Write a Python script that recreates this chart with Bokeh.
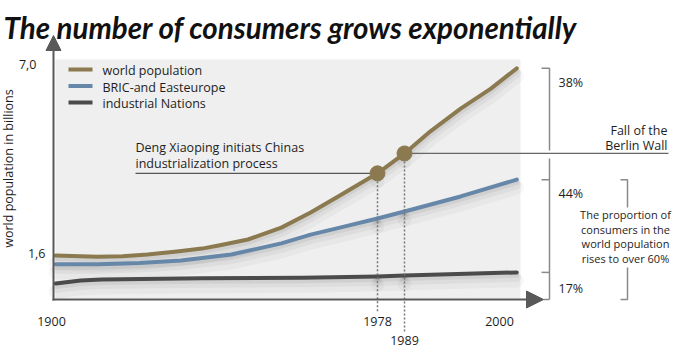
import numpy as np
from bokeh.plotting import figure
from bokeh.models import Range1d, BoxAnnotation, Arrow, NormalHead
from bokeh.core.properties import value
from bokeh.embed import file_html
from bokeh.resources import INLINE

# ---------------- data ----------------
TITLE = "The number of consumers grows exponentially"
Y_TITLE = "world population in billions"

years_world = [1901, 1911, 1917, 1923, 1930, 1936, 1940, 1947, 1955, 1962, 1969, 1978, 1989, 1992, 1995.5, 1999, 2002]
world = [1.54, 1.51, 1.52, 1.57, 1.66, 1.74, 1.83, 2.00, 2.34, 2.77, 3.26, 3.89, 4.46, 5.09, 5.74, 6.31, 6.89]

years_bric = [1901, 1911, 1921, 1931, 1943, 1955, 1962, 1969, 1978, 1989, 1995.5, 2002]
bric = [1.29, 1.29, 1.33, 1.40, 1.57, 1.89, 2.14, 2.34, 2.60, 2.80, 3.23, 3.71]

years_ind = [1901, 1907, 1912, 1936, 1960, 1978, 1989, 2002]
industrial = [0.74, 0.83, 0.86, 0.89, 0.91, 0.94, 0.97, 1.06]

SERIES_NAMES = ["world population", "BRIC-and Easteurope", "industrial Nations"]
SERIES_COLORS = ["#8b7a4f", "#6787a9", "#4b4b4b"]

X_TICKS = [1900, 1978, 1989, 2000]
Y_TICKS = [1.6, 7.0]
Y_TICK_LABELS = ["1,6", "7,0"]

EVENT_YEARS = [1978, 1989]
EVENT_TEXTS = [["Deng Xiaoping initiats Chinas", "industrialization process"],
               ["Fall of the", "Berlin Wall"]]

SHARE_LABELS = ["38%", "44%", "17%"]
NOTE_LINES = ["The proportion of", "consumers in the", "world population", "rises to over 60%"]

# ---------------- layout ----------------
W, H = 674, 351
FONT = "Open Sans"
TXT = "#1e1e1e"
AX = "#595959"

# the illustrated time axis is drawn piecewise: each segment has its own linear scale
X_ANCHOR_PX = [51, 377, 404, 499]          # screen x of the tick years
Y_ANCHOR_PX = [253, 64]                    # screen y (from top) of the value ticks


def lin_range(v0, p0, v1, p1, size):
    k = (p1 - p0) / (v1 - v0)
    start = v0 - p0 / k
    return start, start + size / k, k


seg_names = ["a", "b", "c"]
x_ranges = {}
for i, name in enumerate(seg_names):
    s, e, k = lin_range(X_TICKS[i], X_ANCHOR_PX[i], X_TICKS[i + 1], X_ANCHOR_PX[i + 1], W)
    x_ranges[name] = (s, e, k)

ys, ye, ky = lin_range(Y_TICKS[0], H - Y_ANCHOR_PX[0], Y_TICKS[1], H - Y_ANCHOR_PX[1], H)


def px_to_pop(py):
    return ys + (H - py) / ky


def pop_to_px(v):
    return H - (v - ys) * ky


def px_to_year(seg, px):
    s, e, k = x_ranges[seg]
    return s + px / k


p = figure(width=W, height=H, x_range=Range1d(0, W), y_range=Range1d(H, 0),
           x_axis_location=None, y_axis_location=None, toolbar_location=None,
           output_backend="svg", min_border=0, title=None,
           outline_line_color=None, background_fill_color="white",
           border_fill_color="white")
p.grid.visible = False
p.extra_x_ranges = {n: Range1d(v[0], v[1]) for n, v in x_ranges.items()}
p.extra_y_ranges = {"pop": Range1d(ys, ye)}

# plot background
p.add_layout(BoxAnnotation(left=55, right=520, top=59, bottom=298,
                           fill_color="#efefef", fill_alpha=1, line_color=None, level="underlay"))

series = [(np.array(years_world), np.array(world)),
          (np.array(years_bric), np.array(bric)),
          (np.array(years_ind), np.array(industrial))]
seg_bounds = {"a": (-np.inf, 1978), "b": (1978, 1989), "c": (1989, np.inf)}

# soft drop shadows
for off, wdt, alp in [(3, 5, 0.06), (5, 9, 0.04), (8, 14, 0.03)]:
    d = off / ky
    for yrs, vals in series:
        for name in seg_names:
            lo, hi = seg_bounds[name]
            m = (yrs >= lo) & (yrs <= hi)
            p.line(yrs[m], vals[m] - d, x_range_name=name, y_range_name="pop",
                   line_color="black", line_alpha=alp, line_width=wdt, line_cap="round")

# series lines (drawn back to front)
for (yrs, vals), col in reversed(list(zip(series, SERIES_COLORS))):
    for name in seg_names:
        lo, hi = seg_bounds[name]
        m = (yrs >= lo) & (yrs <= hi)
        p.line(yrs[m], vals[m], x_range_name=name, y_range_name="pop",
               line_color=col, line_width=4, line_cap="round", line_join="round")

# axes with arrows
p.add_layout(Arrow(x_start=53, y_start=300, x_end=53, y_end=35, line_color=AX, line_width=2,
                   end=NormalHead(size=15, fill_color=AX, line_color=AX)))
p.add_layout(Arrow(x_start=52, y_start=299, x_end=543, y_end=299, line_color=AX, line_width=2,
                   end=NormalHead(size=17, fill_color=AX, line_color=AX)))

# events
world_at = dict(zip(years_world, world))
ev_seg = ["a", "c"]
dot_end_px = [312, 332]
for yr, seg, endpx in zip(EVENT_YEARS, ev_seg, dot_end_px):
    p.segment(x0=[yr], y0=[world_at[yr]], x1=[yr], y1=[px_to_pop(endpx)],
              x_range_name=seg, y_range_name="pop", line_color="#777777",
              line_width=1.5, line_dash="2 2")
# leader lines
p.segment(x0=[px_to_year("a", 135)], y0=[world_at[1978]], x1=[1978], y1=[world_at[1978]],
          x_range_name="a", y_range_name="pop", line_color="#555555", line_width=1.2)
p.segment(x0=[1989], y0=[world_at[1989]], x1=[px_to_year("c", 668)], y1=[world_at[1989]],
          x_range_name="c", y_range_name="pop", line_color="#666666", line_width=1.2)
for yr, seg in zip(EVENT_YEARS, ev_seg):
    p.scatter(x=[yr], y=[world_at[yr]], x_range_name=seg, y_range_name="pop",
              size=15, fill_color=SERIES_COLORS[0], line_color=SERIES_COLORS[0])

# event texts
p.text(x=[135, 135], y=[147, 163], text=EVENT_TEXTS[0], text_font=value(FONT),
       text_font_size="12.5px", text_color=TXT, text_align="left", text_baseline="middle")
p.text(x=[667, 667], y=[130, 145], text=EVENT_TEXTS[1], text_font=value(FONT),
       text_font_size="12.5px", text_color=TXT, text_align="right", text_baseline="middle")

# brackets on the right
BR = "#8a8a8a"
w_end_px = pop_to_px(world[-1])
b_end_px = pop_to_px(bric[-1])
i_end_px = pop_to_px(industrial[-1])
berlin_px = pop_to_px(world_at[1989])
p.multi_line(xs=[[541, 549, 549], [549, 549], [541, 549], [541, 549], [543, 549],
                 [620, 627, 627], [627, 627, 620]],
             ys=[[w_end_px, w_end_px, berlin_px - 3], [berlin_px + 5, 299],
                 [b_end_px, b_end_px], [i_end_px, i_end_px], [299, 299],
                 [b_end_px, b_end_px, 207], [267, 299, 299]],
             line_color=BR, line_width=1.5)
p.text(x=[558, 558, 558], y=[82, 193, 288], text=SHARE_LABELS, text_font=value(FONT),
       text_font_size="12.5px", text_color=TXT, text_align="left", text_baseline="middle")
p.text(x=[625] * 4, y=[214, 228.5, 243, 257.5], text=NOTE_LINES, text_font=value(FONT),
       text_font_size="11px", text_color=TXT, text_align="center", text_baseline="middle")

# legend
for i, (nm, col) in enumerate(zip(SERIES_NAMES, SERIES_COLORS)):
    yy = 69 + i * 16.5
    p.segment(x0=[68], y0=[yy], x1=[92], y1=[yy], line_color=col, line_width=4)
p.text(x=[102] * 3, y=[70, 86.5, 103], text=SERIES_NAMES, text_font=value(FONT),
       text_font_size="12.5px", text_color=TXT, text_align="left", text_baseline="middle")

# tick labels
p.text(x=[1900, 1978], y=[321, 321], text=[str(X_TICKS[0]), str(X_TICKS[1])], x_range_name="a",
       text_font=value(FONT), text_font_size="12.5px", text_color=TXT, text_align="center",
       text_baseline="middle")
p.text(x=[1989, 2000], y=[340, 321], text=[str(X_TICKS[2]), str(X_TICKS[3])], x_range_name="c",
       text_font=value(FONT), text_font_size="12.5px", text_color=TXT, text_align="center",
       text_baseline="middle")
p.text(x=[45, 36], y=Y_TICKS, text=Y_TICK_LABELS, y_range_name="pop", text_font=value(FONT),
       text_font_size="12.5px", text_color=TXT, text_align="right", text_baseline="middle")

# y title
p.text(x=[8], y=[168], text=[Y_TITLE], angle=np.pi / 2, text_font=value(FONT),
       text_font_size="12.5px", text_color=TXT, text_align="center", text_baseline="middle")

# title
p.text(x=[3], y=[27], text=[TITLE], text_font=value("Lato"), text_font_size="29.5px",
       text_font_style="bold italic", text_color="#111111", text_align="left",
       text_baseline="alphabetic")

open("out.html", "w").write(file_html(p, INLINE))
